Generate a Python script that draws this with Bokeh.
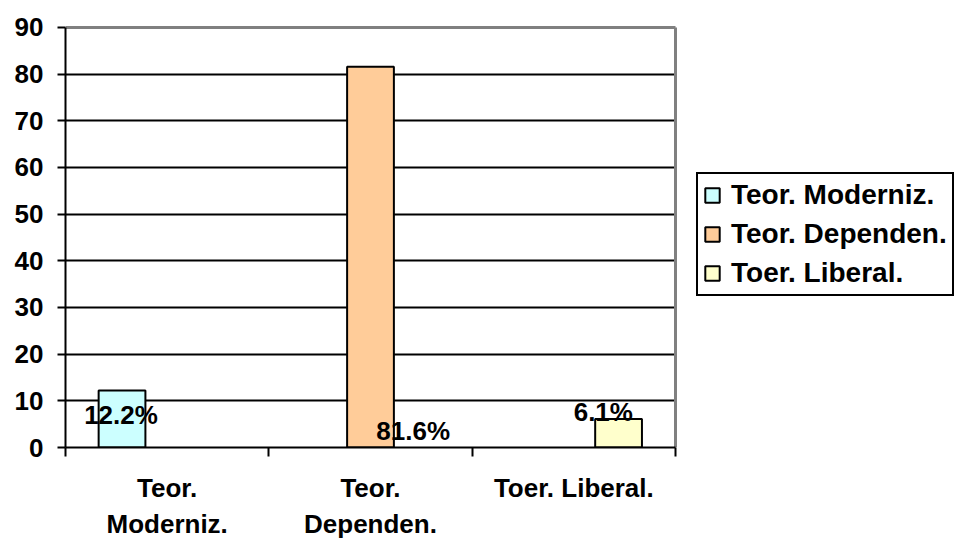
from bokeh.plotting import figure
from bokeh.models import (Range1d, LinearAxis, FixedTicker, Legend, LegendItem, ColumnDataSource, Grid)
from bokeh.transform import dodge
from bokeh.core.properties import value
from bokeh.embed import file_html
from bokeh.resources import INLINE

# ---- data ----
categories = ["Teor. Moderniz.", "Teor. Dependen.", "Toer. Liberal."]
category_labels = ["Teor.\nModerniz.", "Teor.\nDependen.", "Toer. Liberal."]
series_names = ["Teor. Moderniz.", "Teor. Dependen.", "Toer. Liberal."]
values = [12.2, 81.6, 6.1]
label_texts = ["12.2%", "81.6%", "6.1%"]
y_ticks = [0, 10, 20, 30, 40, 50, 60, 70, 80, 90]

# ---- style / layout ----
colors = ["#CCFFFF", "#FFCC99", "#FFFFCC"]
bar_offsets = [-0.222, 0.0, 0.22]
bar_width = 0.23
# data-label anchor positions (offset from category centre, y in data units)
label_offsets = [-0.227, 0.21, 0.145]
label_y = [7.0, 3.6, 7.7]
FONT = value("Liberation Sans")

W, H = 954, 541
LEFT, TOP, BOTTOM = 65, 25, 92
PLOT_W = 610   # visible plot-area width in px; the frame extends to the right edge to hold the legend
PLOT_H = 422   # visible plot-area height in px (0..90)

n = len(categories)
y_max = y_ticks[-1]
centers = [i + 0.5 for i in range(n)]          # category slot centres on a 0..n scale
boundaries = [float(i) for i in range(n + 1)]  # category slot boundaries
x_end = n * (W - LEFT) / PLOT_W
frame_h = H - TOP - BOTTOM
y_end = y_max * frame_h / PLOT_H                # a little head-room so the top border shows

p = figure(width=W, height=H,
           x_range=Range1d(0, x_end), y_range=Range1d(0, y_end),
           x_axis_location=None,
           output_backend="svg", toolbar_location=None,
           min_border_left=LEFT, min_border_top=TOP, min_border_bottom=BOTTOM, min_border_right=0)
p.outline_line_color = None
p.background_fill_color = "white"
p.border_fill_color = "white"

# tick-only axis at category boundaries
tick_axis = LinearAxis(ticker=FixedTicker(ticks=boundaries), bounds=(0, n),
                       major_label_text_font_size="0px", major_label_standoff=0,
                       major_tick_in=0, major_tick_out=9, major_tick_line_width=2,
                       minor_tick_line_color=None,
                       axis_line_color="black", axis_line_width=2)
tick_axis.major_label_text_color = None
p.add_layout(tick_axis, "below")

# category label axis
cat_axis = LinearAxis(ticker=FixedTicker(ticks=centers),
                      axis_line_color=None, major_tick_line_color=None,
                      minor_tick_line_color=None,
                      major_label_standoff=10,
                      major_label_text_font="Liberation Sans",
                      major_label_text_font_style="bold",
                      major_label_text_font_size="26px",
                      major_label_text_color="black",
                      major_label_overrides=dict(zip(centers, category_labels)))
p.add_layout(cat_axis, "below")

# y axis
p.yaxis.ticker = FixedTicker(ticks=y_ticks)
p.yaxis.bounds = (0, y_max)
p.yaxis.axis_line_color = "black"
p.yaxis.axis_line_width = 2
p.yaxis.major_tick_in = 0
p.yaxis.major_tick_out = 8
p.yaxis.major_tick_line_width = 2
p.yaxis.minor_tick_line_color = None
p.yaxis.major_label_standoff = 14
p.yaxis.major_label_text_font = "Liberation Sans"
p.yaxis.major_label_text_font_style = "bold"
p.yaxis.major_label_text_font_size = "26px"
p.yaxis.major_label_text_color = "black"

p.xgrid.grid_line_color = None
p.ygrid.ticker = FixedTicker(ticks=y_ticks[1:-1])
p.ygrid.cross_bounds = (0, n)
p.ygrid.grid_line_color = "black"
p.ygrid.grid_line_width = 2
# grey plot-area border (top and right)
p.add_layout(Grid(dimension=1, ticker=FixedTicker(ticks=[y_max]), bounds=(-1, y_max + 1),
                  cross_bounds=(0, n), grid_line_color="#808080", grid_line_width=3))
p.add_layout(Grid(dimension=0, ticker=FixedTicker(ticks=[n]), cross_bounds=(0, y_max),
                  grid_line_color="#808080", grid_line_width=3))

items = []
for i, name in enumerate(series_names):
    src = ColumnDataSource(dict(x=[centers[i]], val=[values[i]]))
    r = p.vbar(x=dodge("x", bar_offsets[i]), top="val", width=bar_width,
               source=src, fill_color=colors[i], line_color="black", line_width=2)
    items.append(LegendItem(label=name, renderers=[r]))

for i in range(n):
    s = ColumnDataSource(dict(x=[centers[i]], y=[label_y[i]], txt=[label_texts[i]]))
    p.text(x=dodge("x", label_offsets[i]), y="y", text="txt", source=s,
           text_align="center", text_baseline="middle", text_font=FONT,
           text_font_style="bold", text_font_size="26px", text_color="black")

legend = Legend(items=items, location=(PLOT_W + 21, 151),
                label_text_font="Liberation Sans", label_text_font_style="bold",
                label_text_font_size="28px", label_text_color="black",
                glyph_width=18, glyph_height=18, label_standoff=10,
                label_height=31, spacing=7, padding=5, margin=0,
                border_line_color="black", border_line_width=2, border_line_alpha=1,
                background_fill_color="white", background_fill_alpha=1)
p.add_layout(legend, "center")

open("out.html", "w").write(file_html(p, INLINE))
